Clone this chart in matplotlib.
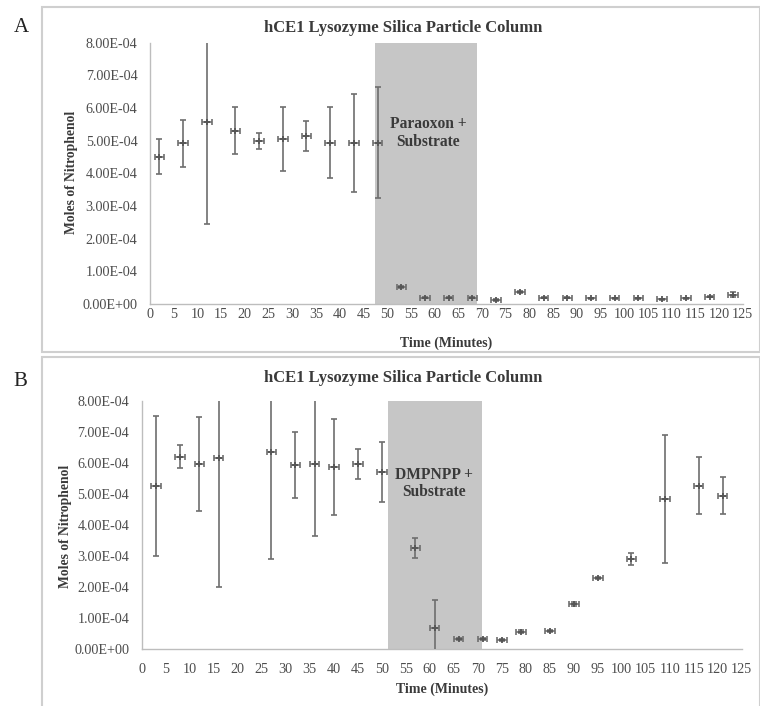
import matplotlib
matplotlib.use("Agg")
import matplotlib.pyplot as plt
from matplotlib.patches import Rectangle
from matplotlib.ticker import FuncFormatter, MultipleLocator

plt.rcParams["font.family"] = ["Liberation Serif", "DejaVu Serif"]

# panel A : paraoxon
a_time = [2, 7, 12, 18, 23, 28, 33, 38, 43, 48, 53, 58, 63, 68, 73, 78, 83, 88,
          93, 98, 103, 108, 113, 118, 123]
a_moles = [4.51, 4.92, 5.56, 5.31, 4.99, 5.04, 5.14, 4.94, 4.92, 4.94, 0.53, 0.19,
           0.19, 0.19, 0.12, 0.37, 0.19, 0.19, 0.17, 0.17, 0.17, 0.14, 0.17, 0.22, 0.28]
a_err = [0.53, 0.72, 3.10, 0.73, 0.25, 0.98, 0.46, 1.08, 1.50, 1.69, 0.03, 0.02,
         0.02, 0.02, 0.02, 0.02, 0.02, 0.02, 0.02, 0.02, 0.02, 0.02, 0.02, 0.02, 0.08]
a_span = (47.5, 69)
a_note = "Paraoxon +\nSubstrate"

# panel B : DMPNPP
b_time = [3, 8, 12, 16, 27, 32, 36, 40, 45, 50, 57, 61, 66, 71, 75, 79, 85, 90,
          95, 102, 109, 116, 121]
b_moles = [5.26, 6.21, 5.97, 6.17, 6.35, 5.94, 5.97, 5.88, 5.97, 5.71, 3.27, 0.70,
           0.34, 0.34, 0.30, 0.57, 0.59, 1.46, 2.30, 2.91, 4.83, 5.27, 4.95]
b_err = [2.25, 0.38, 1.52, 4.17, 3.45, 1.05, 2.32, 1.55, 0.48, 0.97, 0.32, 0.88,
         0.03, 0.03, 0.03, 0.04, 0.04, 0.08, 0.04, 0.18, 2.06, 0.92, 0.60]
b_span = (51.4, 70.8)
b_note = "DMPNPP +\nSubstrate"

title = "hCE1 Lysozyme Silica Particle Column"
scale = 1e-4
W, H = 760, 706


def fx(px):
    return px / W


def fy(py):
    return 1 - py / H


def draw_panel(fig, rect, times, moles, errs, span, note, note_xy, xpad):
    left, top, right, bottom = rect
    ax = fig.add_axes([fx(left), fy(bottom), fx(right) - fx(left), fy(top) - fy(bottom)])
    ax.axvspan(span[0], span[1], ymin=0, ymax=1, color="#c6c6c6", lw=0, zorder=0)
    ax.errorbar(times, [m * scale for m in moles], yerr=[e * scale for e in errs],
                xerr=1, fmt="none", ecolor="#6e6e6e", elinewidth=1.2,
                capsize=2.2, capthick=1.2, zorder=3)
    ax.plot(times, [m * scale for m in moles], ls="none", marker="+",
            ms=4, mew=1.3, color="#555555", zorder=4)
    ax.set_xlim(0, 125)
    ax.set_ylim(0, 8e-4)
    ax.xaxis.set_major_locator(MultipleLocator(5))
    ax.yaxis.set_major_locator(MultipleLocator(1e-4))
    ax.yaxis.set_major_formatter(FuncFormatter(lambda v, p: f"{v:.2E}"))
    for s in ["top", "right"]:
        ax.spines[s].set_visible(False)
    for s in ["left", "bottom"]:
        ax.spines[s].set_color("#bdbdbd")
        ax.spines[s].set_linewidth(1.0)
    ax.tick_params(axis="both", length=0, labelsize=10.2, labelcolor="#4d4d4d")
    ax.tick_params(axis="y", pad=9)
    ax.tick_params(axis="x", pad=xpad)
    ax.text(note_xy[0], note_xy[1], note, ha="center", va="center",
            fontsize=11.2, fontweight="bold", color="#3a3a3a", linespacing=1.15)
    return ax


fig = plt.figure(figsize=(7.6, 7.06), dpi=100)

# panel frames
fig.patches.append(Rectangle((fx(42), fy(352)), fx(760) - fx(42), fy(7) - fy(352),
                             transform=fig.transFigure, fill=False,
                             edgecolor="#cfcfcf", lw=1.5))
fig.patches.append(Rectangle((fx(42), fy(720)), fx(760) - fx(42), fy(357) - fy(720),
                             transform=fig.transFigure, fill=False,
                             edgecolor="#cfcfcf", lw=1.5))

draw_panel(fig, (150, 42.7, 742.7, 304), a_time, a_moles, a_err, a_span,
           a_note, (58.6, 5.24e-4), 3)
draw_panel(fig, (141.7, 401, 741.7, 649.3), b_time, b_moles, b_err, b_span,
           b_note, (60.9, 5.34e-4), 10)

# titles, axis labels, panel letters
for ty in (28, 378):
    fig.text(fx(403), fy(ty), title, ha="center", va="center",
             fontsize=12, fontweight="bold", color="#3a3a3a")
fig.text(fx(446), fy(343), "Time (Minutes)", ha="center", va="center",
         fontsize=10, fontweight="bold", color="#3a3a3a")
fig.text(fx(442), fy(689), "Time (Minutes)", ha="center", va="center",
         fontsize=10, fontweight="bold", color="#3a3a3a")
fig.text(fx(72), fy(172), "Moles of Nitrophenol", rotation=90, ha="center",
         va="center", fontsize=9.8, fontweight="bold", color="#3a3a3a")
fig.text(fx(65), fy(526), "Moles of Nitrophenol", rotation=90, ha="center",
         va="center", fontsize=9.8, fontweight="bold", color="#3a3a3a")
fig.text(fx(21), fy(27), "A", ha="center", va="center", fontsize=15, color="#222222")
fig.text(fx(20), fy(381), "B", ha="center", va="center", fontsize=15, color="#222222")

fig.savefig("out.png", dpi=100)
